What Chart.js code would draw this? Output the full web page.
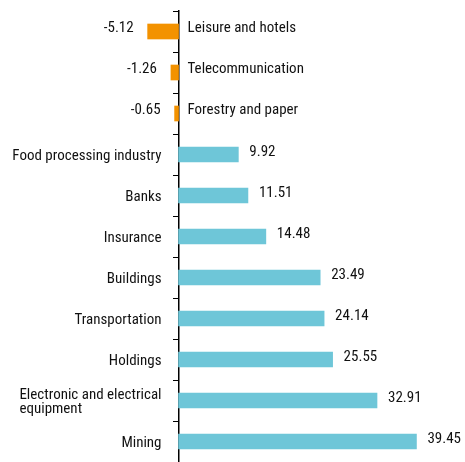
<!DOCTYPE html>
<html lang="en">
<head>
    <meta charset="UTF-8">
    <title>Sector changes</title>
    <script src="https://cdn.jsdelivr.net/npm/chart.js"></script>
    <style>
        body {
            margin: 0;
            background: #ffffff;
        }
        #wrap {
            width: 465px;
            height: 462px;
        }
    </style>
</head>
<body>

<div id="wrap"><canvas id="grafico" width="465" height="462"></canvas></div>

<script>
    const categories = [
        "Leisure and hotels", "Telecommunication", "Forestry and paper",
        "Food processing industry", "Banks", "Insurance", "Buildings",
        "Transportation", "Holdings",
        ["Electronic and electrical", "equipment"], "Mining"
    ];
    const values = [-5.12, -1.26, -0.65, 9.92, 11.51, 14.48, 23.49, 24.14, 25.55, 32.91, 39.45];

    const FONT = "15px 'Roboto Condensed', 'DejaVu Sans Condensed', sans-serif";
    const TEXT = '#111111';

    // category names and value labels, placed from the chart scales
    const labelPlugin = {
        id: 'labelPlugin',
        afterDatasetsDraw(chart) {
            const c = chart.ctx;
            const xs = chart.scales.x;
            const ys = chart.scales.y;
            const x0 = xs.getPixelForValue(0);
            c.save();
            c.font = FONT;
            c.fillStyle = TEXT;
            c.textBaseline = 'middle';
            categories.forEach((cat, i) => {
                const y = ys.getPixelForValue(i);
                const v = values[i];
                const xe = xs.getPixelForValue(v);
                const lines = Array.isArray(cat) ? cat : [cat];
                const lh = 14;
                if (v < 0) {
                    c.textAlign = 'left';
                    lines.forEach((l, k) => c.fillText(l, x0 + 9, y - 3 + (k - (lines.length - 1) / 2) * lh));
                    c.textAlign = 'right';
                    c.fillText(v.toFixed(2), xe - 14, y - 3);
                } else {
                    const w = Math.max(...lines.map(l => c.measureText(l).width));
                    c.textAlign = 'left';
                    lines.forEach((l, k) => c.fillText(l, x0 - 17 - w, y + 2 + (k - (lines.length - 1) / 2) * lh));
                    c.fillText(v.toFixed(2), xe + 11, y - 2);
                }
            });
            c.restore();
        }
    };

    const ctx = document.getElementById('grafico').getContext('2d');
    new Chart(ctx, {
        type: 'bar',
        data: {
            labels: categories,
            datasets: [{
                data: values,
                backgroundColor: values.map(v => v < 0 ? '#f39200' : '#6ec6d8'),
                barThickness: 15
            }]
        },
        options: {
            indexAxis: 'y',
            responsive: false,
            animation: false,
            layout: { padding: { top: 11, bottom: 0, left: 0, right: 0 } },
            scales: {
                x: {
                    display: false,
                    min: -29.6,
                    max: 47.5
                },
                y: {
                    position: { x: 0 },
                    ticks: { display: false },
                    grid: {
                        offset: true,
                        drawOnChartArea: false,
                        tickLength: 5,
                        color: '#000'
                    },
                    border: { color: '#000', width: 1.5 }
                }
            },
            plugins: {
                legend: { display: false },
                tooltip: { enabled: false }
            }
        },
        plugins: [labelPlugin]
    });
</script>

</body>
</html>
